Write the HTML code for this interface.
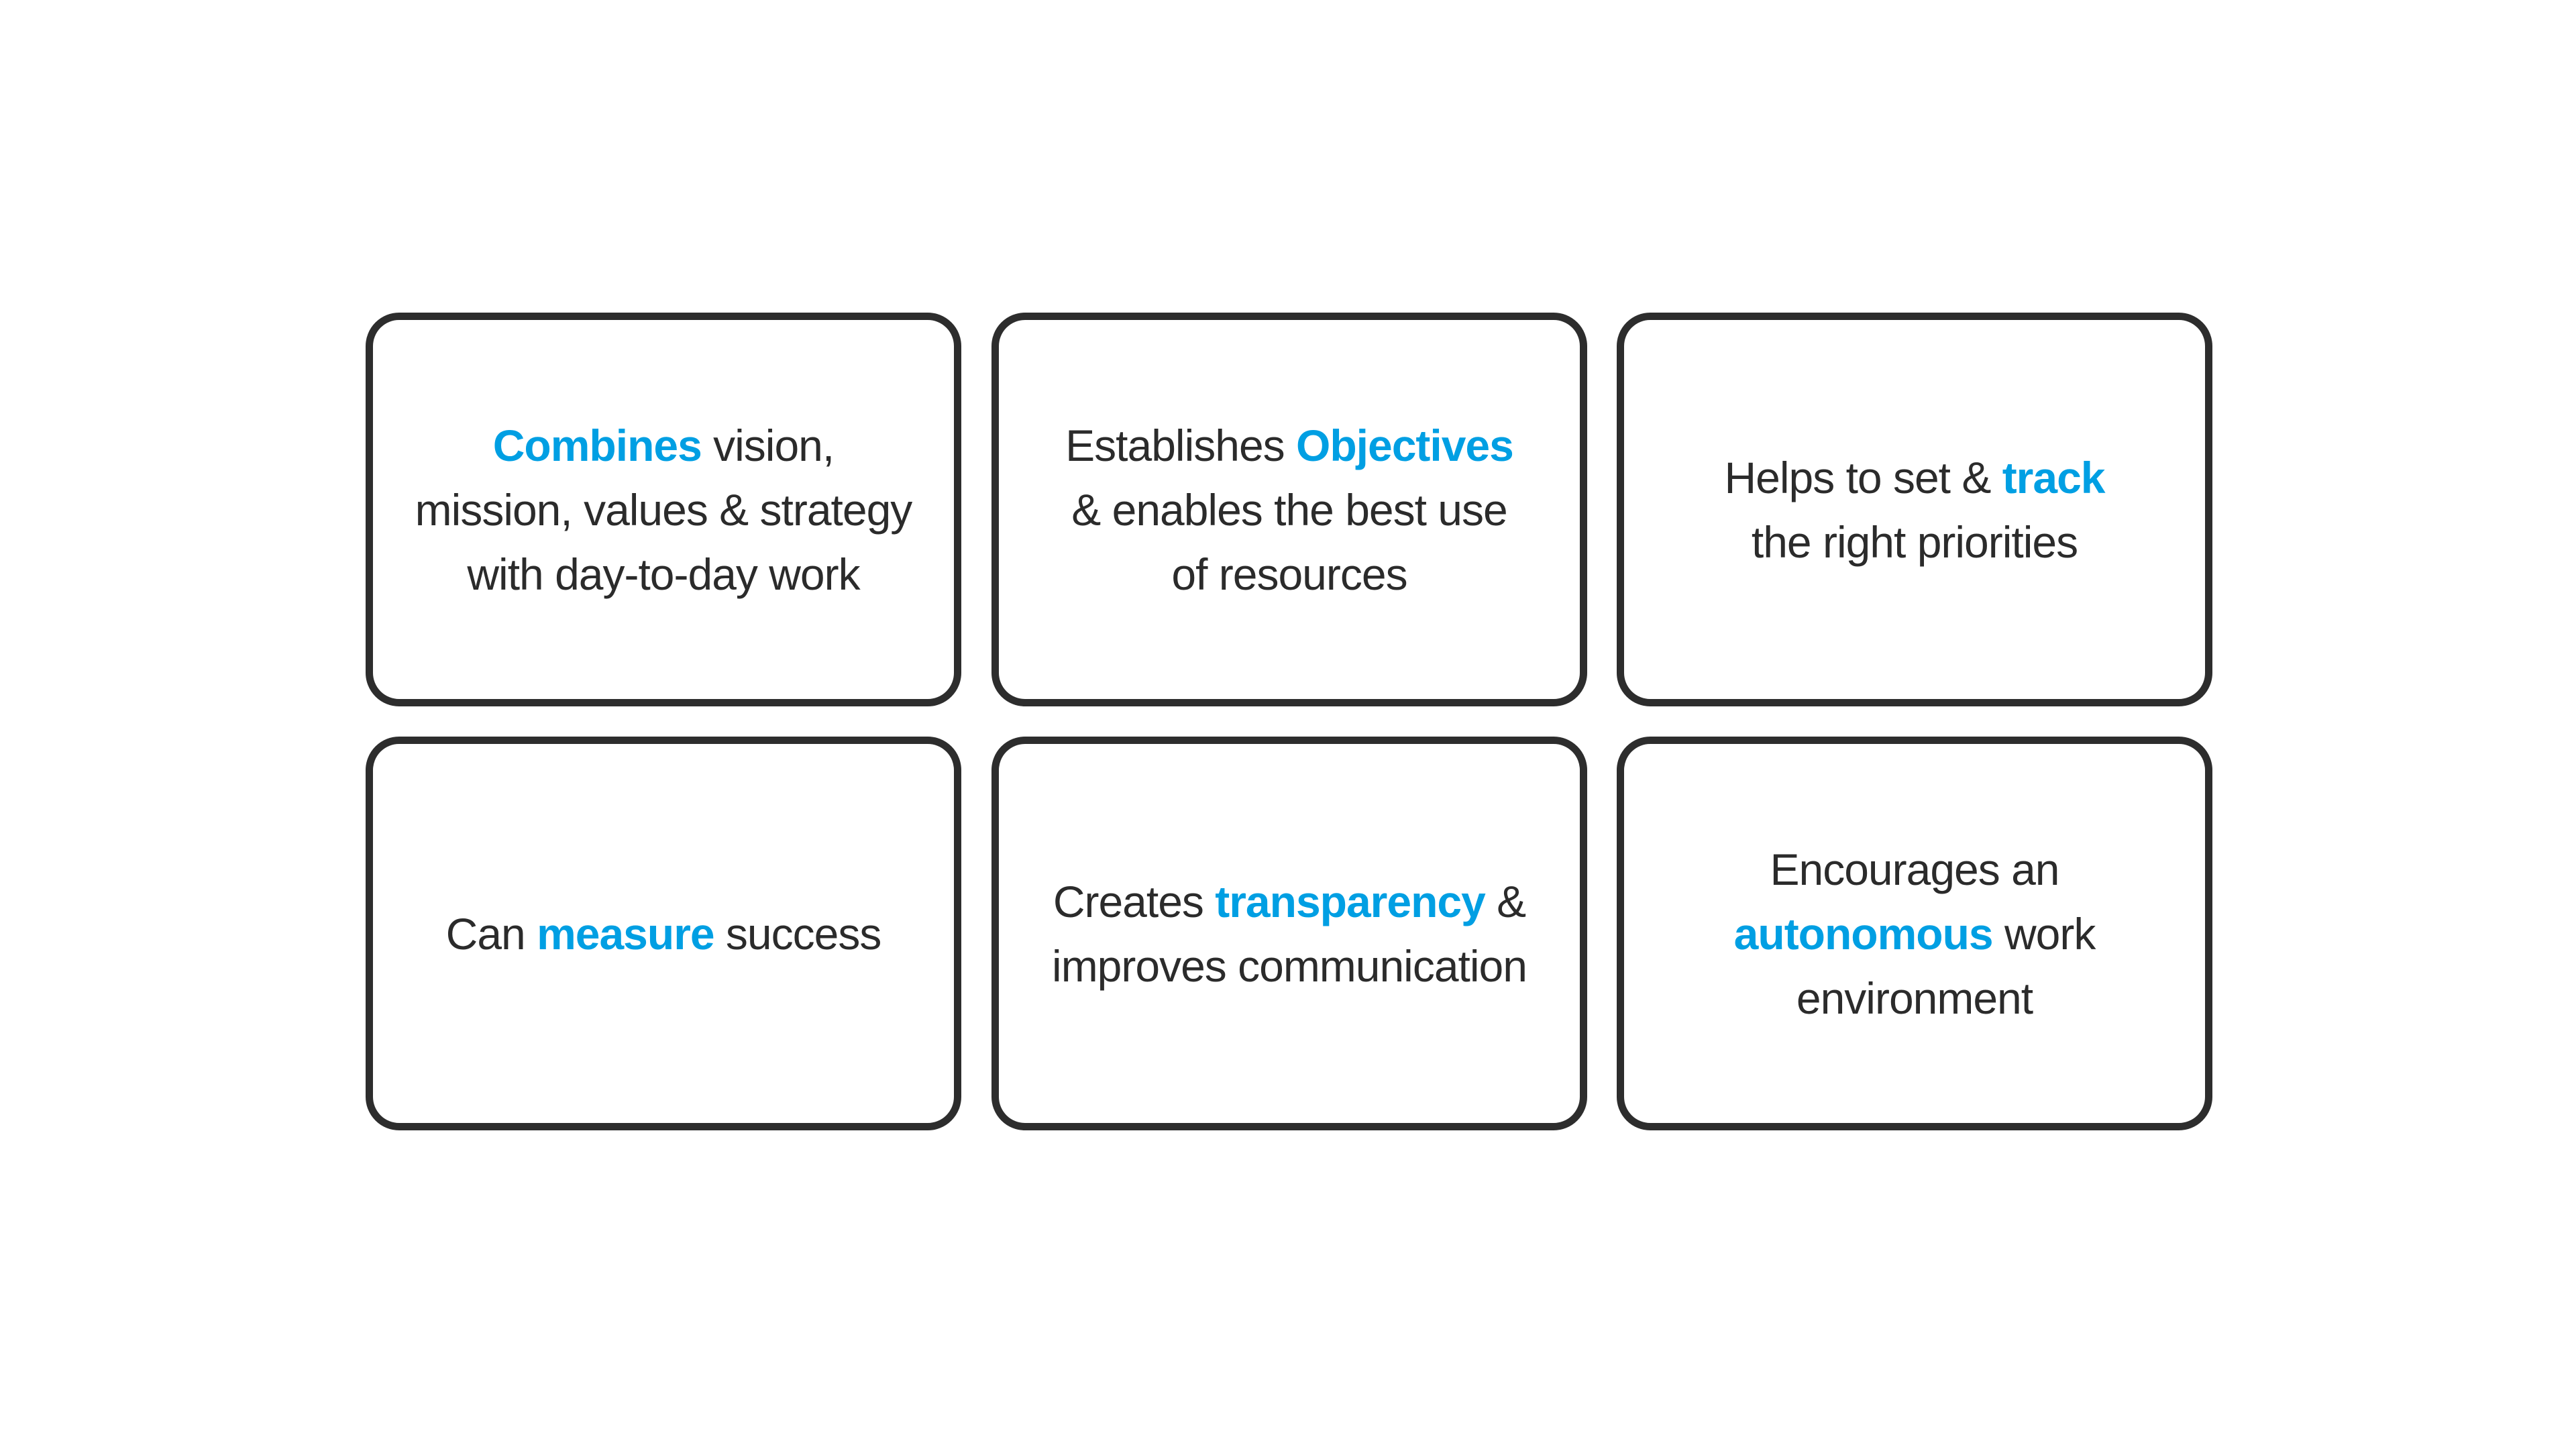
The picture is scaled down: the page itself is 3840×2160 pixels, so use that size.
<!DOCTYPE html>
<html><head><meta charset="utf-8"><style>
html,body{margin:0;padding:0;background:#fff;}
body{width:3840px;height:2160px;position:relative;overflow:hidden;font-family:"Liberation Sans",sans-serif;}
.b{position:absolute;box-sizing:border-box;width:888px;height:587px;border:11px solid #2d2d2d;border-radius:50px;display:flex;align-items:center;justify-content:center;text-align:center;color:#2b2b2b;font-size:66px;line-height:96px;letter-spacing:-1px;}
.b div{white-space:nowrap;}
.b b{color:#009fe3;}
</style></head><body>
<div class="b" style="left:545px;top:466px"><div><b>Combines</b> vision,<br>mission, values &amp; strategy<br>with day-to-day work</div></div>
<div class="b" style="left:1478px;top:466px"><div>Establishes <b>Objectives</b><br>&amp; enables the best use<br>of resources</div></div>
<div class="b" style="left:2410px;top:466px"><div>Helps to set &amp; <b>track</b><br>the right priorities</div></div>
<div class="b" style="left:545px;top:1098px"><div>Can <b>measure</b> success</div></div>
<div class="b" style="left:1478px;top:1098px"><div>Creates <b>transparency</b> &amp;<br>improves communication</div></div>
<div class="b" style="left:2410px;top:1098px"><div>Encourages an<br><b>autonomous</b> work<br>environment</div></div>
</body></html>
